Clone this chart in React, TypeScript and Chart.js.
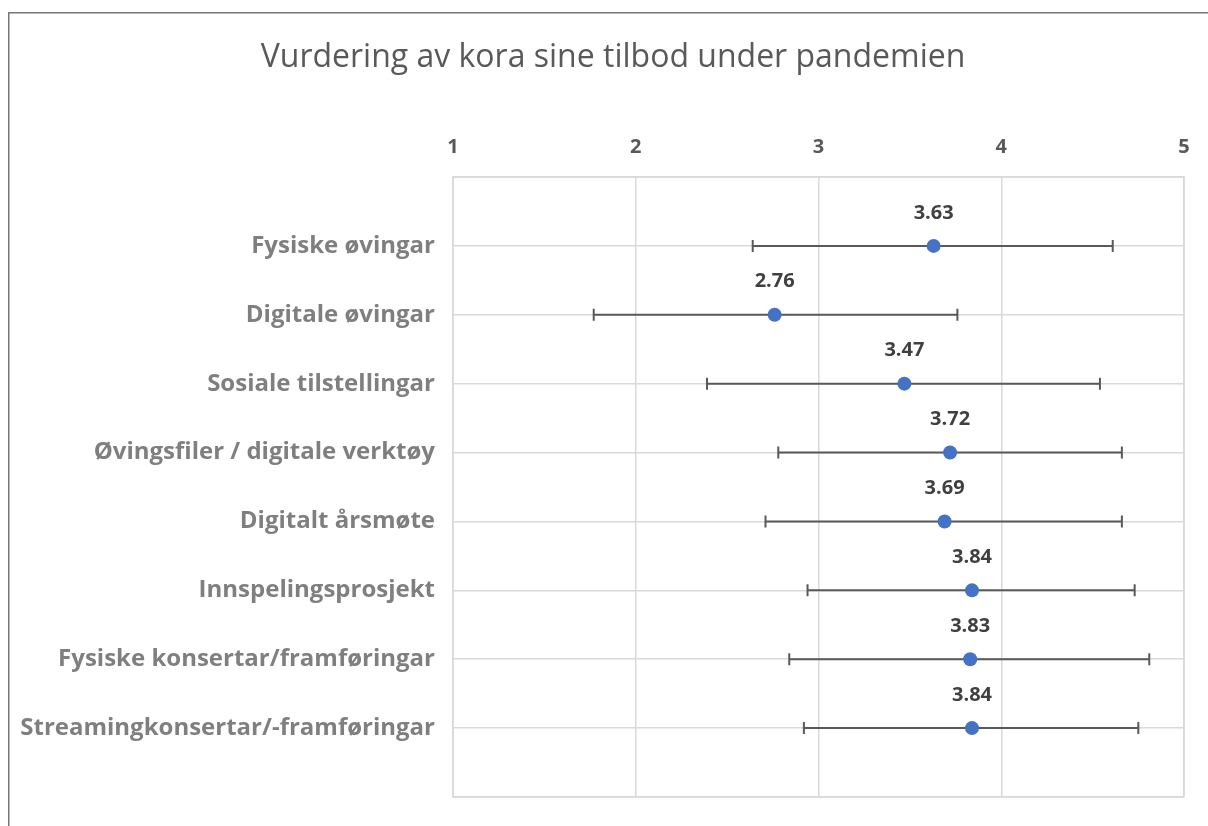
import { useEffect, useRef } from "react";
import { Chart, registerables } from "chart.js";

Chart.register(...registerables);

const chartTitle = "Vurdering av kora sine tilbod under pandemien";
const categories = [
  "Fysiske øvingar",
  "Digitale øvingar",
  "Sosiale tilstellingar",
  "Øvingsfiler / digitale verktøy",
  "Digitalt årsmøte",
  "Innspelingsprosjekt",
  "Fysiske konsertar/framføringar",
  "Streamingkonsertar/-framføringar",
];
const means = [3.63, 2.76, 3.47, 3.72, 3.69, 3.84, 3.83, 3.84];
const lowerBounds = [2.64, 1.77, 2.39, 2.78, 2.71, 2.94, 2.84, 2.92];
const upperBounds = [4.61, 3.76, 4.54, 4.66, 4.66, 4.73, 4.81, 4.75];
const xTicks = [1, 2, 3, 4, 5];

const FONT = "'Open Sans', sans-serif";

export default function App() {
  const ref = useRef<HTMLCanvasElement | null>(null);

  useEffect(() => {
    if (!ref.current) return;

    const outerBorder = {
      id: "outerBorder",
      beforeDraw(chart: any) {
        const ctx = chart.ctx;
        ctx.save();
        ctx.strokeStyle = "#767676";
        ctx.lineWidth = 1.5;
        ctx.strokeRect(8.75, 12.75, chart.width + 20, chart.height + 20);
        ctx.fillStyle = "#595959";
        ctx.font = `normal 32px ${FONT}`;
        ctx.textAlign = "center";
        ctx.textBaseline = "alphabetic";
        ctx.fillText(chartTitle, 613, 67);
        ctx.restore();
      },
    };

    const plotBorder = {
      id: "plotBorder",
      beforeDatasetsDraw(chart: any) {
        const { ctx, chartArea } = chart;
        ctx.save();
        ctx.strokeStyle = "#d9d9d9";
        ctx.lineWidth = 1.5;
        ctx.strokeRect(chartArea.left, chartArea.top, chartArea.right - chartArea.left, chartArea.bottom - chartArea.top);
        ctx.restore();
      },
    };

    const errorBars = {
      id: "errorBars",
      beforeDatasetsDraw(chart: any) {
        const { ctx } = chart;
        const xs = chart.scales.x;
        const ys = chart.scales.y;
        ctx.save();
        ctx.strokeStyle = "#595959";
        ctx.lineWidth = 2;
        means.forEach((_, i) => {
          const y = ys.getPixelForValue(i + 1);
          const x1 = xs.getPixelForValue(lowerBounds[i]);
          const x2 = xs.getPixelForValue(upperBounds[i]);
          ctx.beginPath();
          ctx.moveTo(x1, y);
          ctx.lineTo(x2, y);
          ctx.moveTo(x1, y - 6);
          ctx.lineTo(x1, y + 6);
          ctx.moveTo(x2, y - 6);
          ctx.lineTo(x2, y + 6);
          ctx.stroke();
        });
        ctx.restore();
      },
    };

    const dataLabels = {
      id: "dataLabels",
      afterDatasetsDraw(chart: any) {
        const { ctx } = chart;
        const meta = chart.getDatasetMeta(0);
        ctx.save();
        ctx.fillStyle = "#404040";
        ctx.font = `bold 20px ${FONT}`;
        ctx.textAlign = "center";
        ctx.textBaseline = "middle";
        meta.data.forEach((pt: any, i: number) => {
          ctx.fillText(means[i].toFixed(2), pt.x, pt.y - 33);
        });
        ctx.restore();
      },
    };

    const chart = new Chart(ref.current, {
      type: "scatter",
      data: {
        datasets: [
          {
            data: means.map((m, i) => ({ x: m, y: i + 1 })),
            backgroundColor: "#4472C4",
            borderColor: "#4472C4",
            borderWidth: 0,
            pointRadius: 7,
            pointHoverRadius: 7,
          },
        ],
      },
      options: {
        animation: false,
        responsive: true,
        maintainAspectRatio: false,
        layout: { padding: { left: 0, right: 24, top: 0, bottom: 29 } },
        plugins: {
          legend: { display: false },
          tooltip: { enabled: false },
          title: { display: false },
        },
        scales: {
          x: {
            type: "linear",
            position: "top",
            min: xTicks[0],
            max: xTicks[xTicks.length - 1],
            afterBuildTicks: (scale: any) => {
              scale.ticks = xTicks.map((v) => ({ value: v }));
            },
            afterFit: (scale: any) => {
              scale.height = 177;
            },
            grid: { color: "#d9d9d9", lineWidth: 1.5, drawTicks: false },
            border: { display: false },
            ticks: {
              color: "#595959",
              font: { family: FONT, size: 20, weight: "bold" },
              padding: 18,
              callback: (v: any) => String(v),
            },
          },
          y: {
            type: "linear",
            reverse: true,
            min: 0,
            max: categories.length + 1,
            afterBuildTicks: (scale: any) => {
              const t = [];
              for (let i = 0; i <= categories.length + 1; i++) t.push({ value: i });
              scale.ticks = t;
            },
            afterFit: (scale: any) => {
              scale.width = 453;
              scale.paddingTop = 0;
              scale.paddingBottom = 0;
            },
            grid: { color: "#d9d9d9", lineWidth: 1.5, drawTicks: false },
            border: { display: false },
            ticks: {
              color: "#7f7f7f",
              font: { family: FONT, size: 24, weight: "bold" },
              padding: 18,
              callback: (v: any) => categories[Number(v) - 1] ?? "",
            },
          },
        },
      },
      plugins: [outerBorder, plotBorder, errorBars, dataLabels],
    });

    return () => chart.destroy();
  }, []);

  return (
    <div style={{ position: "absolute", left: 0, top: 0, width: 1208, height: 826 }}>
      <canvas ref={ref} />
    </div>
  );
}
